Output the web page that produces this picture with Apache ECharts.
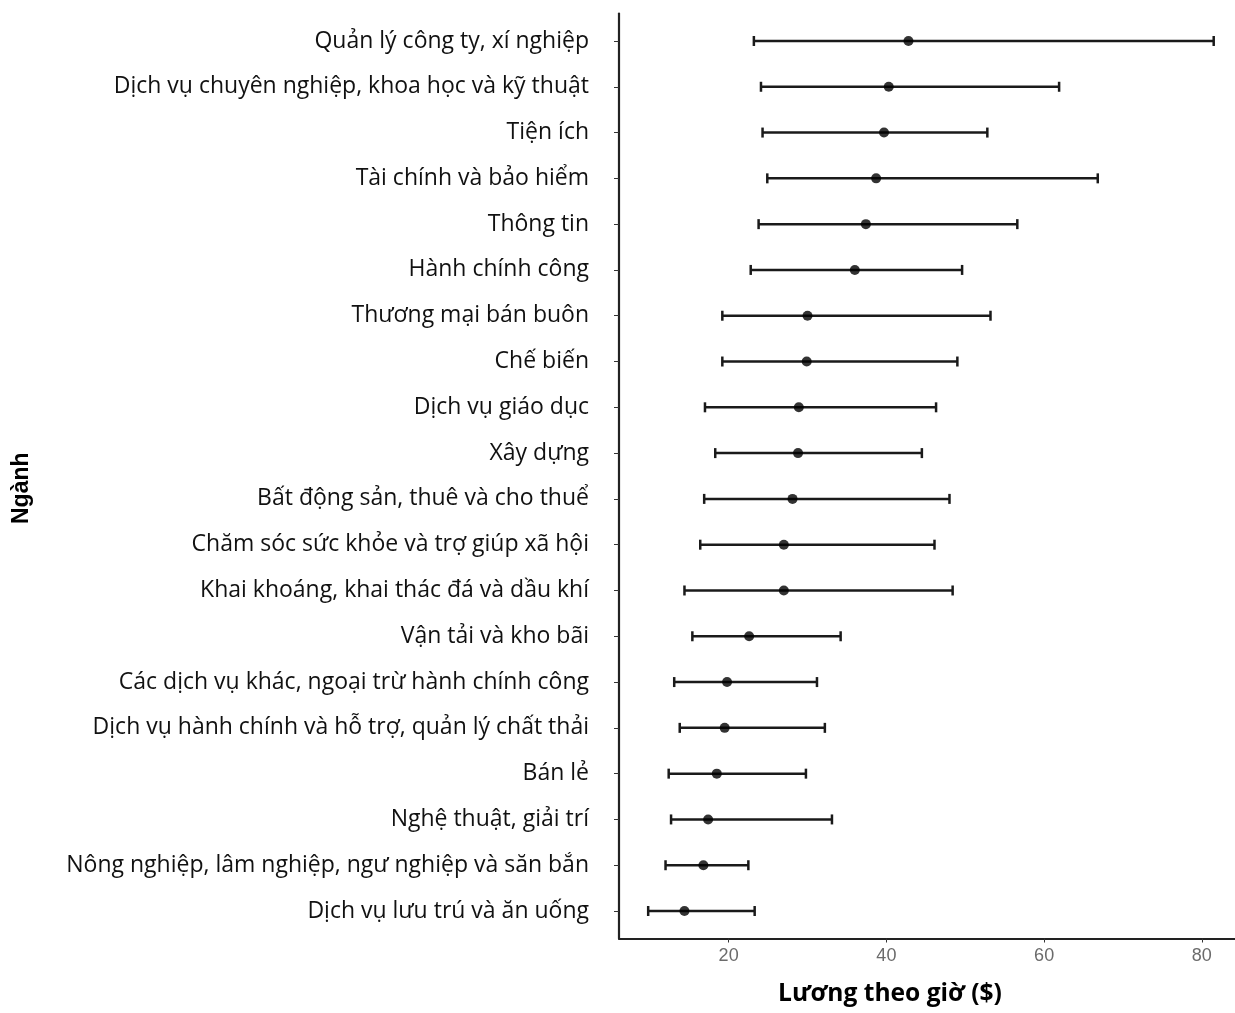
<!DOCTYPE html>
<html>
<head>
<meta charset="utf-8">
<script src="https://cdn.jsdelivr.net/npm/echarts@6/dist/echarts.min.js"></script>
<style>html,body{margin:0;padding:0;background:#fff}#c{width:1235px;height:1013px}</style>
</head>
<body>
<div id="c"></div>
<script>
// Categories, top to bottom
const categories = [
  "Quản lý công ty, xí nghiệp",
  "Dịch vụ chuyên nghiệp, khoa học và kỹ thuật",
  "Tiện ích",
  "Tài chính và bảo hiểm",
  "Thông tin",
  "Hành chính công",
  "Thương mại bán buôn",
  "Chế biến",
  "Dịch vụ giáo dục",
  "Xây dựng",
  "Bất động sản, thuê và cho thuể",
  "Chăm sóc sức khỏe và trợ giúp xã hội",
  "Khai khoáng, khai thác đá và dầu khí",
  "Vận tải và kho bãi",
  "Các dịch vụ khác, ngoại trừ hành chính công",
  "Dịch vụ hành chính và hỗ trợ, quản lý chất thải",
  "Bán lẻ",
  "Nghệ thuật, giải trí",
  "Nông nghiệp, lâm nghiệp, ngư nghiệp và săn bắn",
  "Dịch vụ lưu trú và ăn uống"
];
const meanWage = [42.8, 40.3, 39.7, 38.7, 37.4, 36.0, 30.0, 29.9, 28.9, 28.8, 28.1, 27.0, 27.0, 22.6, 19.8, 19.5, 18.5, 17.4, 16.8, 14.4];
const lowWage  = [23.2, 24.1, 24.3, 24.9, 23.8, 22.8, 19.2, 19.2, 17.0, 18.3, 16.9, 16.4, 14.4, 15.4, 13.1, 13.8, 12.4, 12.7, 12.0, 9.8];
const highWage = [81.5, 61.9, 52.8, 66.8, 56.6, 49.6, 53.2, 49.0, 46.3, 44.5, 48.0, 46.1, 48.4, 34.2, 31.2, 32.2, 29.8, 33.1, 22.5, 23.3];
const xTicks = [20, 40, 60, 80];

const idx = categories.map((_, i) => i);
const errData = idx.map(i => [lowWage[i], highWage[i], i]);
const ptData = idx.map(i => [meanWage[i], i]);

const chart = echarts.init(document.getElementById('c'), null, {renderer: 'canvas'});
chart.setOption({
  animation: false,
  backgroundColor: '#fff',
  grid: {left: 619, right: 0, top: 13.5, bottom: 74.5, containLabel: false},
  xAxis: {
    type: 'value', min: 6.1, max: 84.2,
    axisLine: {show: true, onZero: false, lineStyle: {color: '#222', width: 2.2}},
    axisTick: {show: true, length: 4, customValues: xTicks, lineStyle: {color: '#333'}},
    axisLabel: {customValues: xTicks, color: '#6b6b6b', fontSize: 18, fontFamily: 'Liberation Sans Narrow, Liberation Sans, Arial', margin: 9},
    splitLine: {show: false}
  },
  yAxis: {
    type: 'value', min: -0.6, max: 19.6, inverse: true,
    axisLine: {show: true, onZero: false, lineStyle: {color: '#222', width: 2.2}},
    axisTick: {show: true, length: 5, customValues: idx, lineStyle: {color: '#333'}},
    axisLabel: {
      customValues: idx,
      formatter: v => categories[Math.round(v)],
      color: '#111', fontSize: 23, fontFamily: 'Open Sans, Noto Sans, sans-serif', margin: 30
    },
    splitLine: {show: false}
  },
  series: [
    {
      type: 'custom',
      data: errData,
      encode: {x: [0, 1], y: 2},
      renderItem: function (params, api) {
        const y = api.value(2);
        const a = api.coord([api.value(0), y]);
        const b = api.coord([api.value(1), y]);
        const h = 5;
        const st = {stroke: '#1a1a1a', lineWidth: 2.5};
        return {type: 'group', children: [
          {type: 'line', shape: {x1: a[0], y1: a[1], x2: b[0], y2: b[1]}, style: st},
          {type: 'line', shape: {x1: a[0], y1: a[1] - h, x2: a[0], y2: a[1] + h}, style: st},
          {type: 'line', shape: {x1: b[0], y1: b[1] - h, x2: b[0], y2: b[1] + h}, style: st}
        ]};
      },
      z: 2
    },
    {
      type: 'scatter',
      data: ptData,
      symbol: 'circle',
      symbolSize: 10,
      itemStyle: {color: '#000'},
      z: 3
    }
  ],
  graphic: [
    {type: 'text', left: 778, top: 981, style: {text: 'Lương theo giờ ($)', font: 'bold 24.6px Open Sans, Noto Sans, sans-serif', fill: '#000'}},
    {type: 'text', x: 10, y: 524, rotation: Math.PI / 2, style: {text: 'Ngành', font: 'bold 23px Liberation Sans, Arial, sans-serif', fill: '#000'}}
  ]
});
</script>
</body>
</html>
